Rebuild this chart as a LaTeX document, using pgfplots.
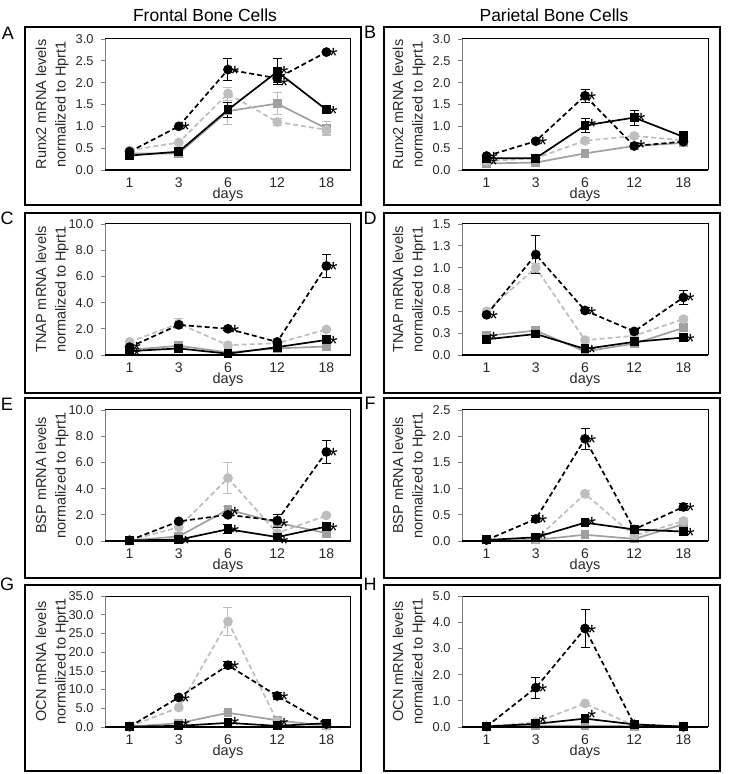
\documentclass[border=0pt]{standalone}
\usepackage{fontspec}
\setmainfont{Liberation Sans}
\usepackage{pgfplots}
\pgfplotsset{compat=1.18}
\definecolor{gsc}{RGB}{160,160,160}
\definecolor{gdc}{RGB}{190,190,190}
\definecolor{lab}{RGB}{40,40,40}
\pgfplotsset{
 panel/.style={
  scale only axis, width=246pt, height=131pt,
  anchor=south west,
  xmin=-0.5, xmax=4.5, xtick={0,...,4}, xticklabels={1,3,6,12,18},
  ymin=0,
  clip=false,
  axis line style={black, line width=1pt},
  xtick style={draw=none},
  ytick pos=left,
  tick align=outside,
  major tick length=4pt,
  ytick style={draw=gray, line width=0.7pt},
  tick label style={font=\fontsize{12.8}{14}\selectfont, text=lab},
  xticklabel style={font=\fontsize{14}{14}\selectfont},
  /pgf/number format/assume math mode=true,
  yticklabel style={/pgf/number format/fixed, /pgf/number format/fixed zerofill, /pgf/number format/precision=1, xshift=-4pt},
  xlabel={days},
  xlabel style={at={(axis description cs:0.5,-0.19)}, anchor=center, font=\fontsize{14.5}{15}\selectfont, text=lab},
  ylabel style={at={(axis description cs:-0.215,0.5)}, anchor=center, align=center, font=\fontsize{14.5}{19.5}\selectfont, text=lab},
  after end axis/.code={
    \draw[gray, line width=1pt] (rel axis cs:0,0) -- (rel axis cs:0,1);
    \draw[black, line width=2.2pt] (rel axis cs:0,0) -- (rel axis cs:1,0);
  },
 },
 gsS/.style={color=gsc, line width=1.7pt, solid, mark=square*, mark size=3.6pt, mark options={solid, fill=gsc, draw=gsc}},
 gdS/.style={color=gdc, line width=1.7pt, dash pattern=on 5pt off 3pt, mark=*, mark size=4pt, mark options={solid, fill=gdc, draw=gdc}},
 bsS/.style={color=black, line width=1.7pt, solid, mark=square*, mark size=3.6pt, mark options={solid, fill=black}},
 bdS/.style={color=black, line width=1.7pt, dash pattern=on 5pt off 3pt, mark=*, mark size=4pt, mark options={solid, fill=black}},
 ebk/.style={only marks, mark=none, color=black, forget plot, error bars/.cd, y dir=both, y explicit, error bar style={black, line width=1pt, solid}, error mark options={black, rotate=90, mark size=4.5pt, line width=1pt}},
 ebg/.style={only marks, mark=none, color=gdc, forget plot, error bars/.cd, y dir=both, y explicit, error bar style={gdc, line width=1pt, solid}, error mark options={gdc, rotate=90, mark size=4.5pt, line width=1pt}},
 star/.style={only marks, mark=none, forget plot, nodes near coords={*}, every node near coord/.style={anchor=west, xshift=2pt, yshift=-4pt, font=\fontsize{22}{22}\selectfont, inner sep=0.5pt, text=black}},
}
\begin{document}
\begin{tikzpicture}
\useasboundingbox (0pt,0pt) rectangle (729pt,774pt);
% frames
\draw[line width=1.8pt] (25pt,747pt) rectangle (361pt,569pt);
\draw[line width=1.8pt] (384pt,747pt) rectangle (720pt,569pt);
\draw[line width=1.8pt] (25pt,561pt) rectangle (361pt,381pt);
\draw[line width=1.8pt] (384pt,561pt) rectangle (720pt,381pt);
\draw[line width=1.8pt] (25pt,376pt) rectangle (361pt,196pt);
\draw[line width=1.8pt] (384pt,376pt) rectangle (720pt,196pt);
\draw[line width=1.8pt] (25pt,189pt) rectangle (361pt,3pt);
\draw[line width=1.8pt] (384pt,189pt) rectangle (720pt,3pt);
% letters
\begin{scope}[every node/.style={font=\fontsize{18}{18}\selectfont, inner sep=0pt}]
\node at (8pt,741pt) {A};
\node at (370pt,742pt) {B};
\node at (7pt,556pt) {C};
\node at (370pt,556pt) {D};
\node at (7pt,370pt) {E};
\node at (370pt,371pt) {F};
\node at (7pt,190pt) {G};
\node at (370pt,190pt) {H};
\end{scope}
\node[font=\fontsize{17.5}{18}\selectfont] at (205pt,759pt) {Frontal Bone Cells};
\node[font=\fontsize{17.5}{18}\selectfont] at (554pt,759pt) {Parietal Bone Cells};

% ---------- A ----------
\begin{axis}[panel, at={(105pt,604pt)}, ymax=3, ytick={0,0.5,...,3}, ylabel={Runx2 mRNA levels\\normalized to Hprt1}]
\addplot[ebg] coordinates {(0,0.38)+-(0,0.08) (1,0.38)+-(0,0.1) (2,1.35)+-(0,0.3) (3,1.52)+-(0,0.25) (4,0.95)+-(0,0.15)};
\addplot[ebg] coordinates {(0,0.45)+-(0,0.05) (2,1.75)+-(0,0.15) (3,1.1)+-(0,0.08) (4,0.92)+-(0,0.1)};
\addplot[gsS] coordinates {(0,0.38) (1,0.38) (2,1.35) (3,1.52) (4,0.95)};
\addplot[gdS] coordinates {(0,0.45) (1,0.63) (2,1.75) (3,1.1) (4,0.92)};
\addplot[ebk] coordinates {(1,0.42)+-(0,0.05) (2,1.38)+-(0,0.17) (3,2.25)+-(0,0.3) (4,1.38)+-(0,0.07)};
\addplot[ebk] coordinates {(2,2.3)+-(0,0.25) (3,2.1)+-(0,0.1) (4,2.7)+-(0,0.03)};
\addplot[bsS] coordinates {(0,0.33) (1,0.42) (2,1.38) (3,2.25) (4,1.38)};
\addplot[bdS] coordinates {(0,0.42) (1,1.0) (2,2.3) (3,2.1) (4,2.7)};
\addplot[star] coordinates {(1,1.0) (2,2.3) (3,2.3) (3,2.02) (4,2.7) (4,1.38)};
\end{axis}

% ---------- B ----------
\begin{axis}[panel, at={(462pt,604pt)}, ymax=3, ytick={0,0.5,...,3}, ylabel={Runx2 mRNA levels\\normalized to Hprt1}]
\addplot[ebg] coordinates {(2,0.67)+-(0,0.07) (3,0.78)+-(0,0.05)};
\addplot[gsS] coordinates {(0,0.15) (1,0.17) (2,0.38) (3,0.55) (4,0.62)};
\addplot[gdS] coordinates {(0,0.2) (1,0.27) (2,0.67) (3,0.78) (4,0.68)};
\addplot[ebk] coordinates {(2,1.02)+-(0,0.17) (3,1.2)+-(0,0.17) (4,0.76)+-(0,0.12)};
\addplot[ebk] coordinates {(1,0.66)+-(0,0.03) (2,1.7)+-(0,0.15) (3,0.55)+-(0,0.05)};
\addplot[bsS] coordinates {(0,0.27) (1,0.27) (2,1.02) (3,1.2) (4,0.76)};
\addplot[bdS] coordinates {(0,0.32) (1,0.66) (2,1.7) (3,0.55) (4,0.65)};
\addplot[star] coordinates {(0,0.33) (0,0.2) (1,0.66) (2,1.7) (2,1.08) (3,1.22) (3,0.6)};
\end{axis}

% ---------- C ----------
\begin{axis}[panel, at={(105pt,419pt)}, ymax=10, ytick={0,2,...,10}, ylabel={TNAP mRNA levels\\normalized to Hprt1}]
\addplot[ebg] coordinates {(1,2.4)+-(0,0.35)};
\addplot[gsS] coordinates {(0,0.4) (1,0.7) (2,0.2) (3,0.5) (4,0.65)};
\addplot[gdS] coordinates {(0,1.0) (1,2.4) (2,0.75) (3,0.9) (4,1.95)};
\addplot[ebk] coordinates {(4,1.15)+-(0,0.15)};
\addplot[ebk] coordinates {(2,2.0)+-(0,0.1) (4,6.8)+-(0,0.9)};
\addplot[bsS] coordinates {(0,0.3) (1,0.5) (2,0.1) (3,0.6) (4,1.15)};
\addplot[bdS] coordinates {(0,0.6) (1,2.3) (2,2.0) (3,1.0) (4,6.8)};
\addplot[star] coordinates {(0,0.7) (0,0.2) (2,2.0) (4,6.8) (4,1.15)};
\end{axis}

% ---------- D ----------
\begin{axis}[panel, at={(462pt,419pt)}, ymax=1.5, ytick={0,0.25,0.5,0.75,1,1.25,1.5}, yticklabels={0.0,0.3,0.5,0.8,1.0,1.3,1.5}, ylabel={TNAP mRNA levels\\normalized to Hprt1}]
\addplot[ebg] coordinates {(1,1.0)+-(0,0.05) (2,0.17)+-(0,0.03) (4,0.41)+-(0,0.03) (4,0.31)+-(0,0.03)};
\addplot[gsS] coordinates {(0,0.22) (1,0.28) (2,0.04) (3,0.13) (4,0.31)};
\addplot[gdS] coordinates {(0,0.5) (1,1.0) (2,0.17) (3,0.22) (4,0.41)};
\addplot[ebk] coordinates {(0,0.46)+-(0,0.02) (1,1.15)+-(0,0.22) (2,0.51)+-(0,0.03) (3,0.27)+-(0,0.02) (4,0.66)+-(0,0.08)};
\addplot[bsS] coordinates {(0,0.18) (1,0.24) (2,0.07) (3,0.15) (4,0.2)};
\addplot[bdS] coordinates {(0,0.46) (1,1.15) (2,0.51) (3,0.27) (4,0.66)};
\addplot[star] coordinates {(0,0.46) (0,0.22) (2,0.51) (2,0.07) (4,0.66) (4,0.2)};
\end{axis}

% ---------- E ----------
\begin{axis}[panel, at={(105pt,233pt)}, ymax=10, ytick={0,2,...,10}, ylabel={BSP mRNA levels\\normalized to Hprt1}]
\addplot[ebg] coordinates {(2,2.4)+-(0,0.2) (3,1.4)+-(0,0.2) (2,4.8)+-(0,1.2)};
\addplot[gsS] coordinates {(0,0.05) (1,0.35) (2,2.4) (3,1.4) (4,0.6)};
\addplot[gdS] coordinates {(0,0.05) (1,1.05) (2,4.8) (3,0.6) (4,1.95)};
\addplot[ebk] coordinates {(2,0.9)+-(0,0.35) (4,1.1)+-(0,0.3)};
\addplot[ebk] coordinates {(1,1.5)+-(0,0.1) (2,2.0)+-(0,0.1) (3,1.55)+-(0,0.5) (4,6.8)+-(0,0.9)};
\addplot[bsS] coordinates {(0,0.05) (1,0.1) (2,0.9) (3,0.3) (4,1.1)};
\addplot[bdS] coordinates {(0,0.05) (1,1.5) (2,2.0) (3,1.55) (4,6.8)};
\addplot[star] coordinates {(1,0.1) (2,2.3) (2,0.9) (3,1.4) (3,0.1) (4,6.8) (4,1.1)};
\end{axis}

% ---------- F ----------
\begin{axis}[panel, at={(462pt,233pt)}, ymax=2.5, ytick={0,0.5,...,2.5}, ylabel={BSP mRNA levels\\normalized to Hprt1}]
\addplot[ebg] coordinates {(2,0.9)+-(0,0.07) (4,0.38)+-(0,0.05)};
\addplot[gsS] coordinates {(0,0.02) (1,0.02) (2,0.12) (3,0.04) (4,0.32)};
\addplot[gdS] coordinates {(0,0.02) (1,0.03) (2,0.9) (3,0.1) (4,0.38)};
\addplot[ebk] coordinates {(2,0.35)+-(0,0.03)};
\addplot[ebk] coordinates {(1,0.42)+-(0,0.07) (2,1.95)+-(0,0.2) (4,0.65)+-(0,0.06)};
\addplot[bsS] coordinates {(0,0.02) (1,0.07) (2,0.35) (3,0.22) (4,0.18)};
\addplot[bdS] coordinates {(0,0.02) (1,0.42) (2,1.95) (3,0.22) (4,0.65)};
\addplot[star] coordinates {(1,0.42) (1,0.12) (2,1.95) (2,0.38) (4,0.65) (4,0.18)};
\end{axis}

% ---------- G ----------
\begin{axis}[panel, at={(105pt,47pt)}, ymax=35, ytick={0,5,...,35}, ylabel={OCN mRNA levels\\normalized to Hprt1}]
\addplot[ebg] coordinates {(2,3.8)+-(0,0.4) (2,28.2)+-(0,3.7)};
\addplot[gsS] coordinates {(0,0.1) (1,1.0) (2,3.8) (3,1.8) (4,0.3)};
\addplot[gdS] coordinates {(0,0.1) (1,5.2) (2,28.2) (3,1.5) (4,0.3)};
\addplot[ebk] coordinates {(1,7.9)+-(0,0.4) (2,16.5)+-(0,1.0) (3,8.3)+-(0,0.9)};
\addplot[bsS] coordinates {(0,0.1) (1,0.3) (2,1.1) (3,0.3) (4,1.0)};
\addplot[bdS] coordinates {(0,0.1) (1,7.9) (2,16.5) (3,8.3) (4,0.8)};
\addplot[star] coordinates {(1,7.9) (1,1.0) (2,16.5) (2,1.6) (3,8.3) (3,1.4)};
\end{axis}

% ---------- H ----------
\begin{axis}[panel, at={(462pt,47pt)}, ymax=5, ytick={0,1,...,5}, ylabel={OCN mRNA levels\\normalized to Hprt1}]
\addplot[gsS] coordinates {(0,0.02) (1,0.05) (2,0.05) (3,0.03) (4,0.02)};
\addplot[gdS] coordinates {(0,0.02) (1,0.18) (2,0.9) (3,0.05) (4,0.02)};
\addplot[ebk] coordinates {(1,1.5)+-(0,0.4) (2,3.76)+-(0,0.73)};
\addplot[bsS] coordinates {(0,0.02) (1,0.12) (2,0.32) (3,0.1) (4,0.01)};
\addplot[bdS] coordinates {(0,0.02) (1,1.5) (2,3.76) (3,0.1) (4,0.01)};
\addplot[star] coordinates {(1,1.5) (1,0.3) (2,3.76) (2,0.5)};
\end{axis}
\end{tikzpicture}
\end{document}
